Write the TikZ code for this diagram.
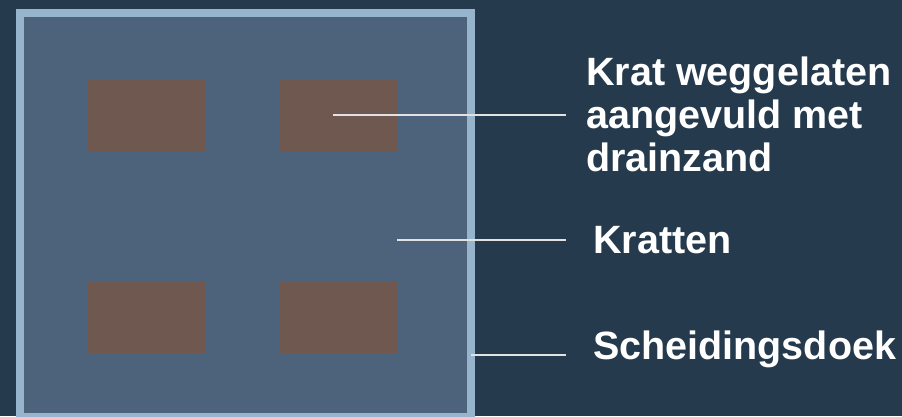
\documentclass[tikz,border=0pt]{standalone}
\usepackage{fontspec}
\setmainfont{Liberation Sans}
\definecolor{bgdark}{HTML}{253A4C}
\definecolor{sqfill}{HTML}{4D637C}
\definecolor{sqedge}{HTML}{96B4CC}
\definecolor{crate}{HTML}{6E5850}
\definecolor{leader}{HTML}{E2E2E2}
\tikzset{
  cratebox/.style={fill=crate, draw=none},
  lbl/.style={text=white, font=\fontsize{39.5}{43}\selectfont\bfseries, inner sep=0pt, align=left, anchor=base west},
  leaderline/.style={draw=leader, line width=1.2pt}
}
\begin{document}
\begin{tikzpicture}[x=1pt, y=-1pt]
\useasboundingbox (0,0) rectangle (902,416);
\fill[bgdark] (0,0) rectangle (902,416);
\begin{scope}
\clip (0,0) rectangle (902,416);
\path[fill=sqfill, draw=sqedge, line width=8pt] (20,13) rectangle (471,417);
\end{scope}
\path[cratebox] (88,79) rectangle (205,151);
\path[cratebox] (279,79) rectangle (397,151);
\path[cratebox] (88,282) rectangle (205,353);
\path[cratebox] (279,282) rectangle (397,353);
\node[lbl] (krat) at (586,171) {Krat weggelaten\\aangevuld met\\drainzand};
\node[lbl] (kratten) at (593,253) {Kratten};
\node[lbl] (doek) at (593,359) {Scheidingsdoek};
\coordinate (p1) at (333,115);
\coordinate (p2) at (397,240);
\coordinate (p3) at (471,355);
\draw[leaderline, shorten >=20pt] (p1) -- (p1 -| krat.west);
\draw[leaderline, shorten >=27pt] (p2) -- (p2 -| kratten.west);
\draw[leaderline, shorten >=27pt] (p3) -- (p3 -| doek.west);
\end{tikzpicture}
\end{document}
